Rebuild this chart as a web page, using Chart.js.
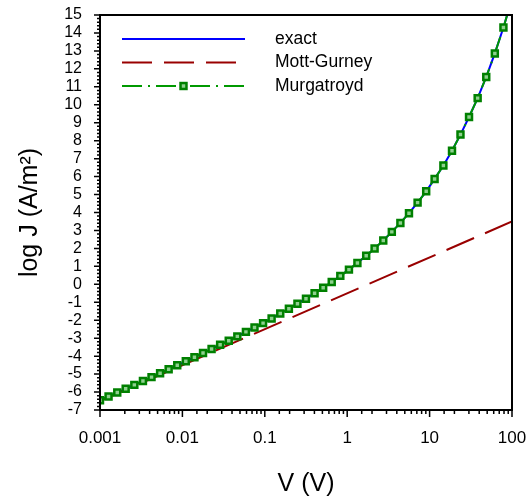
<!DOCTYPE html>
<html>
<head>
<meta charset="utf-8">
<script src="https://cdn.jsdelivr.net/npm/chart.js@4.4.0/dist/chart.umd.min.js"></script>
<style>
  html, body { margin: 0; padding: 0; background: #fff; }
  #wrap { width: 526px; height: 500px; }
</style>
</head>
<body>
<div id="wrap"><canvas id="jv" width="526" height="500"></canvas></div>
<script>
// applied voltage (V) at each computed point
const voltage = [
    0.001, 0.00127, 0.00162, 0.00205, 0.00261, 0.00332, 0.00422, 0.00536, 0.00681, 0.00866,
    0.0110, 0.0140, 0.0178, 0.0226, 0.0287, 0.0365, 0.0464, 0.0590, 0.0750, 0.0953,
    0.121, 0.154, 0.196, 0.249, 0.316, 0.402, 0.511, 0.649, 0.825, 1.05,
    1.33, 1.70, 2.15, 2.74, 3.48, 4.42, 5.62, 7.15, 9.09, 11.5,
    14.7, 18.7, 23.7, 30.1, 38.3, 48.7, 61.9, 78.7, 100
];

// log10 of current density (A/m^2)
const exactLogJ = [
    -6.46, -6.25, -6.03, -5.82, -5.60, -5.39, -5.17, -4.95, -4.73, -4.51,
    -4.29, -4.06, -3.83, -3.60, -3.37, -3.14, -2.90, -2.65, -2.41, -2.16,
    -1.90, -1.63, -1.36, -1.08, -0.80, -0.50, -0.19, 0.13, 0.47, 0.82,
    1.19, 1.59, 2.00, 2.44, 2.92, 3.42, 3.96, 4.55, 5.18, 5.87,
    6.62, 7.44, 8.34, 9.32, 10.37, 11.55, 12.86, 14.30, 15.90
];

const murgatroydLogJ = [
    -6.46, -6.25, -6.03, -5.82, -5.60, -5.39, -5.17, -4.95, -4.73, -4.51,
    -4.29, -4.06, -3.83, -3.60, -3.37, -3.14, -2.90, -2.65, -2.41, -2.16,
    -1.90, -1.63, -1.36, -1.08, -0.80, -0.50, -0.19, 0.13, 0.47, 0.82,
    1.19, 1.59, 2.00, 2.44, 2.92, 3.42, 3.96, 4.55, 5.18, 5.87,
    6.62, 7.44, 8.34, 9.32, 10.37, 11.55, 12.86, 14.30, 15.90
];

// Mott-Gurney is a straight line on these axes
const mottGurneyV = [0.001, 100];
const mottGurneyLogJ = [-6.5, 3.5];

const xTickLabels = ["0.001", "0.01", "0.1", "1", "10", "100"];
const seriesNames = ["exact", "Mott-Gurney", "Murgatroyd"];

const FONT = "'Liberation Sans', Arial, sans-serif";

const toPoints = (xs, ys) => xs.map((v, i) => ({ x: v, y: ys[i] }));

// frame round the plot plus major/minor tick marks
const frameTicks = {
    id: "frameTicks",
    afterDatasetsDraw(chart) {
        const { ctx, chartArea: a, scales: { x, y } } = chart;
        ctx.save();
        ctx.strokeStyle = "#000";
        ctx.lineWidth = 2;
        ctx.strokeRect(a.left, a.top, a.right - a.left, a.bottom - a.top);

        ctx.lineWidth = 1.5;
        ctx.beginPath();
        y.ticks.forEach((t, i) => {
            const py = y.getPixelForValue(t.value);
            ctx.moveTo(a.left, py);
            ctx.lineTo(a.left - 6, py);
            const next = y.ticks[i + 1];
            if (!next) return;
            for (let k = 1; k < 5; k++) {
                const my = y.getPixelForValue(t.value + (next.value - t.value) * k / 5);
                ctx.moveTo(a.left, my);
                ctx.lineTo(a.left - 3, my);
            }
        });
        x.ticks.forEach(t => {
            const px = x.getPixelForValue(t.value);
            const e = Math.log10(t.value);
            const major = Math.abs(e - Math.round(e)) < 1e-6;
            ctx.moveTo(px, a.bottom);
            ctx.lineTo(px, a.bottom + (major ? 7 : 4));
        });
        ctx.stroke();
        ctx.restore();
    }
};

// legend drawn inside the plot, top left
const innerLegend = {
    id: "innerLegend",
    afterDatasetsDraw(chart) {
        const ctx = chart.ctx;
        const x0 = 122, x1 = 245, tx = 275;
        ctx.save();
        seriesNames.forEach((name, i) => {
            const ds = chart.data.datasets.find(d => d.label === name);
            const yy = 39 + i * 23.5;
            ctx.strokeStyle = ds.borderColor;
            ctx.lineWidth = ds.borderWidth;
            ctx.setLineDash(ds.borderDash || []);
            ctx.beginPath();
            ctx.moveTo(x0, yy);
            ctx.lineTo(x1, yy);
            ctx.stroke();
            ctx.setLineDash([]);
            if (ds.pointRadius > 0) {
                const cx = (x0 + x1) / 2;
                const s = ds.pointRadius * Math.SQRT1_2;
                ctx.fillStyle = ds.pointBackgroundColor;
                ctx.strokeStyle = ds.pointBorderColor;
                ctx.lineWidth = ds.pointBorderWidth;
                ctx.fillRect(cx - s, yy - s, 2 * s, 2 * s);
                ctx.strokeRect(cx - s, yy - s, 2 * s, 2 * s);
            }
            ctx.fillStyle = "#000";
            ctx.font = "17.5px " + FONT;
            ctx.textBaseline = "middle";
            ctx.textAlign = "left";
            ctx.fillText(name, tx, yy);
        });
        ctx.restore();
    }
};

new Chart(document.getElementById("jv"), {
    type: "line",
    data: {
        datasets: [
            {
                label: seriesNames[0],
                data: toPoints(voltage, exactLogJ),
                borderColor: "#0000ff",
                borderWidth: 2,
                pointRadius: 0,
                tension: 0,
                order: 3
            },
            {
                label: seriesNames[1],
                data: toPoints(mottGurneyV, mottGurneyLogJ),
                borderColor: "#990000",
                borderWidth: 2,
                borderDash: [30, 12],
                pointRadius: 0,
                tension: 0,
                order: 2
            },
            {
                label: seriesNames[2],
                data: toPoints(voltage, murgatroydLogJ),
                borderColor: "#009900",
                borderWidth: 2,
                borderDash: [20, 6, 2, 6],
                pointStyle: "rect",
                pointRadius: 4.2,
                pointBorderWidth: 2.5,
                pointBorderColor: "#008000",
                pointBackgroundColor: "#8fd08f",
                tension: 0,
                order: 1
            }
        ]
    },
    options: {
        responsive: false,
        animation: false,
        events: [],
        layout: { padding: { top: 15, right: 14, left: 0, bottom: 0 } },
        plugins: {
            legend: { display: false },
            tooltip: { enabled: false }
        },
        scales: {
            x: {
                type: "logarithmic",
                min: 0.001,
                max: 100,
                afterFit: s => {
                    s.height = 90;
                    s.paddingLeft = 0;
                    s.paddingRight = 0;
                },
                grid: { display: false, drawTicks: false, tickLength: 0 },
                border: { display: false },
                ticks: {
                    autoSkip: false,
                    maxRotation: 0,
                    padding: 18,
                    color: "#000",
                    font: { family: FONT, size: 17 },
                    callback: v => {
                        const e = Math.log10(v);
                        return Math.abs(e - Math.round(e)) < 1e-6 ? xTickLabels[Math.round(e) + 3] : "";
                    }
                },
                title: {
                    display: true,
                    text: "V (V)",
                    color: "#000",
                    font: { family: FONT, size: 25 },
                    padding: { top: 0, bottom: 1 }
                }
            },
            y: {
                min: -7,
                max: 15,
                afterFit: s => {
                    s.width = 100;
                    s.paddingTop = 0;
                    s.paddingBottom = 0;
                },
                grid: { display: false, drawTicks: false, tickLength: 0 },
                border: { display: false },
                ticks: {
                    stepSize: 1,
                    autoSkip: false,
                    padding: 18,
                    color: "#000",
                    font: { family: FONT, size: 16 }
                },
                title: {
                    display: true,
                    text: "log J (A/m²)",
                    color: "#000",
                    font: { family: FONT, size: 25 },
                    padding: { top: 15, bottom: 0 }
                }
            }
        }
    },
    plugins: [frameTicks, innerLegend]
});
</script>
</body>
</html>
